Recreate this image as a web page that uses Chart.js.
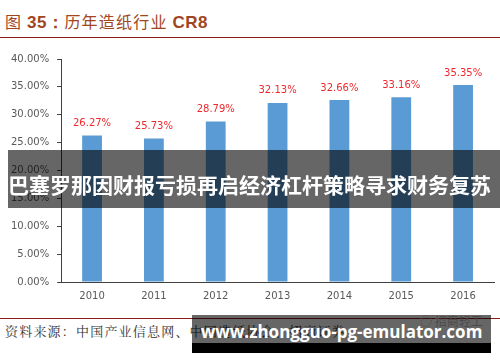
<!DOCTYPE html>
<html>
<head>
<meta charset="utf-8">
<script src="https://cdn.jsdelivr.net/npm/chart.js@4.4.0/dist/chart.umd.min.js"></script>
<style>
  html, body { margin:0; padding:0; background:#fff; }
  body { width:500px; height:362px; position:relative; overflow:hidden; font-family:"Noto Sans CJK SC", "Noto Sans", sans-serif; }
  #title { position:absolute; left:5px; top:9px; font-size:16px; color:#a0461e; white-space:nowrap; letter-spacing:1.2px; }
  #title b { font-family:"Liberation Sans", Arial, sans-serif; font-weight:bold; font-size:17px; letter-spacing:0.5px; }
  #topline { position:absolute; left:0; top:37px; width:500px; height:1px; background:#8b1a1a; }
  #botline { position:absolute; left:0; top:318px; width:500px; height:1px; background:#8b1a1a; }
  #source { position:absolute; left:5px; top:322px; font-size:13px; line-height:18px; color:#333; white-space:nowrap; letter-spacing:1.2px; font-family:"Noto Serif CJK SC","Noto Sans CJK SC",serif; }
  #wm { position:absolute; left:420px; top:312px; font-size:12px; color:#bbb; white-space:nowrap; }
  #chartbox { position:absolute; left:0; top:45px; width:500px; height:265px; }
  #banner { position:absolute; left:8px; top:150px; width:492px; height:58px; background:rgba(0,0,0,0.6); color:#fff; font-weight:bold; font-size:21px; line-height:58px; white-space:nowrap; overflow:hidden; }
  #banner span { position:absolute; left:0; top:5px; }
  #url { position:absolute; left:192px; top:315px; width:299px; height:28px; background:rgba(0,0,0,0.6); }
  #urlblack { position:absolute; left:192px; top:343px; width:299px; height:10px; background:#000; }
  #urltext { position:absolute; left:192px; top:318px; width:299px; text-align:center; color:#fff; font-weight:bold; font-size:17px; line-height:28px; font-family:"Open Sans","DejaVu Sans",sans-serif; white-space:nowrap; }
</style>
</head>
<body>
<div id="title">图 <b>35：</b>历年造纸行业 <b>CR8</b></div>
<div id="topline"></div>
<div id="chartbox"><canvas id="c" width="500" height="265"></canvas></div>
<div id="botline"></div>
<div id="source">资料来源：中国产业信息网、中国造纸协会、招商证券</div>
<div id="wm">◌ 招商轻工</div>
<div id="banner"><span>巴塞罗那因财报亏损再启经济杠杆策略寻求财务复苏</span></div>
<div id="url"></div>
<div id="urlblack"></div>
<div id="urltext">www.zhongguo-pg-emulator.com</div>
<script>
const categories = ["2010","2011","2012","2013","2014","2015","2016"];
const cr8Values = [26.27, 25.73, 28.79, 32.13, 32.66, 33.16, 35.35];
const yTicks = [0, 5, 10, 15, 20, 25, 30, 35, 40];

const labelPlugin = {
  id: 'valueLabels',
  afterDatasetsDraw(chart) {
    const ctx = chart.ctx;
    const meta = chart.getDatasetMeta(0);
    ctx.save();
    ctx.font = '10px "DejaVu Sans", sans-serif';
    ctx.fillStyle = '#f0282d';
    ctx.textAlign = 'center';
    ctx.textBaseline = 'middle';
    meta.data.forEach((bar, i) => {
      ctx.fillText(cr8Values[i].toFixed(2) + '%', bar.x, bar.y - 12);
    });
    ctx.restore();
  }
};

new Chart(document.getElementById('c'), {
  type: 'bar',
  data: {
    labels: categories,
    datasets: [{
      data: cr8Values,
      backgroundColor: '#5b9bd5',
      borderWidth: 0,
      categoryPercentage: 1.0,
      barPercentage: 0.32
    }]
  },
  options: {
    responsive: false,
    animation: false,
    devicePixelRatio: 1,
    layout: { padding: { left: 3, right: 6, top: 13, bottom: 0 } },
    plugins: { legend: { display: false }, tooltip: { enabled: false } },
    scales: {
      x: {
        grid: { display: false, drawTicks: false },
        border: { display: true, color: '#404040', width: 1 },
        ticks: { color: '#595959', font: { size: 10, family: '"DejaVu Sans", sans-serif' }, padding: 8 }
      },
      y: {
        min: 0, max: 40,
        afterBuildTicks(axis) { axis.ticks = yTicks.map(v => ({ value: v })); },
        grid: { display: true, drawOnChartArea: false, drawTicks: true, tickLength: 4, color: '#404040' },
        border: { display: true, color: '#404040', width: 1 },
        ticks: { color: '#595959', font: { size: 10, family: '"DejaVu Sans", sans-serif' }, padding: 8,
          callback: v => v.toFixed(2) + '%' }
      }
    }
  },
  plugins: [labelPlugin]
});
</script>
</body>
</html>
